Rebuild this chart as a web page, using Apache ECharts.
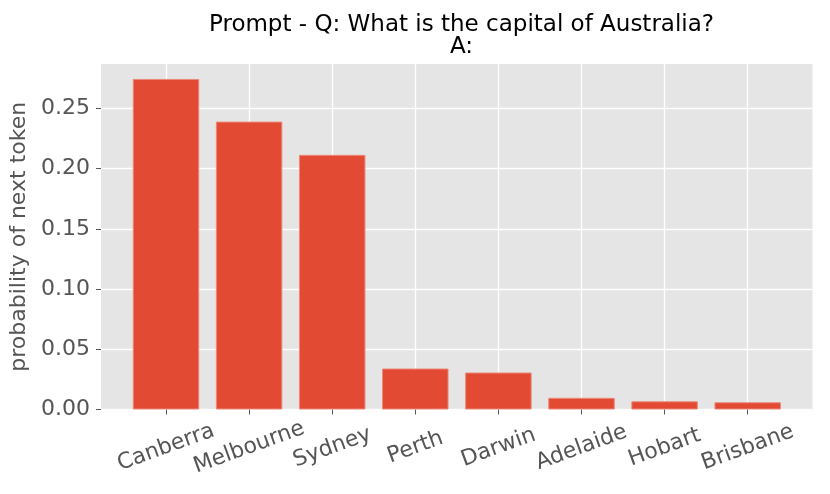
<!DOCTYPE html>
<html>
<head>
<meta charset="utf-8">
<script src="https://cdn.jsdelivr.net/npm/echarts@6/dist/echarts.min.js"></script>
<style>html,body{margin:0;padding:0;background:#fff}#c{width:830px;height:494px}</style>
</head>
<body>
<div id="c"></div>
<script>
const titleText = "Prompt - Q: What is the capital of Australia?\nA:";
const yAxisName = "probability of next token";
const categories = ["Canberra", "Melbourne", "Sydney", "Perth", "Darwin", "Adelaide", "Hobart", "Brisbane"];
const probabilities = [0.2744, 0.2390, 0.2114, 0.0340, 0.0307, 0.0097, 0.0068, 0.0060];
const yTicks = [0, 0.05, 0.10, 0.15, 0.20, 0.25];
const yMax = 0.2868;

const FONT = "DejaVu Sans";
const chart = echarts.init(document.getElementById('c'), null, {renderer: 'canvas'});
chart.setOption({
  animation: false,
  backgroundColor: '#ffffff',
  title: {
    text: titleText,
    left: 456.5, textAlign: 'center', top: 9,
    textStyle: {fontFamily: FONT, fontSize: 23, fontWeight: 'normal', color: '#000', lineHeight: 22}
  },
  grid: [
    {left: 101, right: 17.5, top: 64, bottom: 84.5, show: true, backgroundColor: '#e5e5e5', borderWidth: 0},
    {left: 166, right: 82.3, top: 64, bottom: 84.5, show: false}
  ],
  xAxis: [
    {type: 'value', gridIndex: 0, show: false, min: 0, max: 1},
    {
      type: 'category', gridIndex: 1, data: categories, boundaryGap: false,
      axisLine: {show: false},
      axisTick: {show: true, length: 5, lineStyle: {color: '#555555', width: 1}},
      splitLine: {show: true, lineStyle: {color: '#ffffff', width: 1.3}},
      axisLabel: {
        interval: 0, rotate: 20, align: 'center', verticalAlign: 'middle', margin: 38,
        fontFamily: FONT, fontSize: 22, color: '#555555'
      }
    }
  ],
  yAxis: [
    {
      type: 'value', gridIndex: 0, min: 0, max: yMax, interval: 0.05,
      name: yAxisName, nameLocation: 'middle', nameRotate: 90, nameGap: 66,
      nameTextStyle: {fontFamily: FONT, fontSize: 22, color: '#555555'},
      axisLine: {show: false},
      axisTick: {show: true, length: 5, customValues: yTicks, lineStyle: {color: '#555555', width: 1}},
      splitLine: {show: true, lineStyle: {color: '#ffffff', width: 1.3}},
      axisLabel: {
        customValues: yTicks, margin: 11,
        formatter: v => v.toFixed(2),
        fontFamily: FONT, fontSize: 22, color: '#555555'
      }
    },
    {type: 'value', gridIndex: 1, min: 0, max: yMax, show: false}
  ],
  series: [{
    type: 'bar', xAxisIndex: 1, yAxisIndex: 1, data: probabilities,
    barWidth: '80%', clip: false,
    itemStyle: {color: '#e24a33', borderColor: '#ec8878', borderWidth: 1}
  }]
});
</script>
</body>
</html>
